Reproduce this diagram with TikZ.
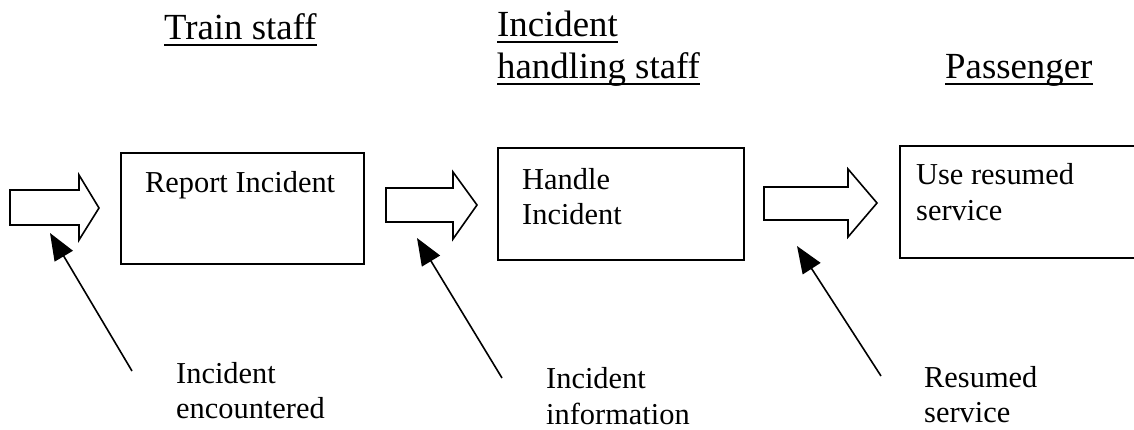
\documentclass[tikz,border=0pt]{standalone}
\usepackage{fontspec}
\setmainfont{Liberation Serif}
\usetikzlibrary{arrows.meta}
\begin{document}
\begin{tikzpicture}[x=1pt,y=-1pt,
  boxtext/.style={anchor=base west, inner sep=0pt, font=\fontsize{30.4}{36}\selectfont},
  headtext/.style={anchor=base west, inner sep=0pt, font=\fontsize{36.8}{42}\selectfont},
  procbox/.style={draw, line width=1.8pt, anchor=north west, inner sep=0pt},
  blockarrow/.style={draw, line width=1.6pt, line join=miter},
  pointer/.style={line width=1.6pt, -{Triangle[length=27pt,width=21pt]}},
  underl/.style={line width=2pt}]
\useasboundingbox (0,0) rectangle (1134,430);
\clip (0,0) rectangle (1134,430);

% role headings, underlined
\node[headtext] (h1)  at (164,40) {Train staff};
\node[headtext] (h2a) at (497,37) {Incident};
\node[headtext] (h2b) at (497,79) {handling staff};
\node[headtext] (h3)  at (945,79) {Passenger};
\foreach \h in {h1,h2a,h2b,h3}
  \draw[underl] ([yshift=-5pt]\h.base west) -- ([yshift=-5pt]\h.base east);

% process boxes (the last one runs on past the right edge)
\node[procbox, minimum width=243pt, minimum height=111pt] (b1) at (120,152) {};
\node[procbox, minimum width=246pt, minimum height=112pt] (b2) at (497,147) {};
\node[procbox, minimum width=250pt, minimum height=112pt] (b3) at (899,145) {};

\node[boxtext] (t1)  at (145,193) {Report Incident};
\node[boxtext] (t2a) at (522,190) {Handle};
\node[boxtext] (t2b) at (522,225) {Incident};
\node[boxtext] (t3a) at (916,185) {Use resumed};
\node[boxtext] (t3b) at (916,221) {service};

% hollow block arrows into each box
\draw[blockarrow] (10,190) -- (79,190) -- (79,175) -- (99,208) -- (79,240) -- (79,225) -- (10,225) -- cycle;
\draw[blockarrow] (386,188) -- (453,188) -- (453,172) -- (477,205) -- (453,239) -- (453,222) -- (386,222) -- cycle;
\draw[blockarrow] (764,187) -- (848,187) -- (848,169) -- (877,203) -- (848,237) -- (848,220) -- (764,220) -- cycle;

% input labels
\node[boxtext] (l1a) at (176,383) {Incident};
\node[boxtext] (l1b) at (176,418) {encountered};
\node[boxtext] (l2a) at (546,388) {Incident};
\node[boxtext] (l2b) at (546,424) {information};
\node[boxtext] (l3a) at (924,387) {Resumed};
\node[boxtext] (l3b) at (924,422) {service};

% pointers from labels to the block arrows
\coordinate (p1s) at (132,371);
\coordinate (p1t) at (50,233);
\coordinate (p2s) at (502,378);
\coordinate (p2t) at (417,238);
\coordinate (p3s) at (881,376);
\coordinate (p3t) at (797,246);
\draw[pointer] (p1s) -- (p1t);
\draw[pointer] (p2s) -- (p2t);
\draw[pointer] (p3s) -- (p3t);
\end{tikzpicture}
\end{document}
